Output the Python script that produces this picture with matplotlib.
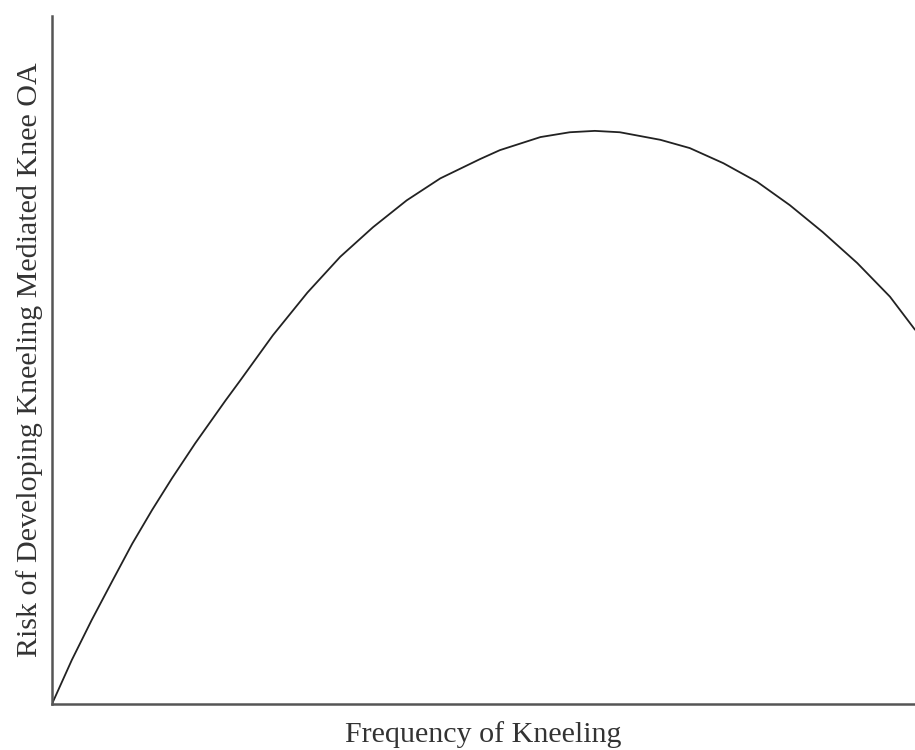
import matplotlib.pyplot as plt

# values (arbitrary 0-100 scale on both axes)
frequency = [0, 2.3, 4.6, 7.0, 9.3, 11.6, 13.9, 16.6, 20.1, 21.8, 25.6, 29.6,
             33.4, 37.2, 41.1, 45.0, 49.6, 51.9, 56.6, 60.0, 62.9, 65.8, 70.5,
             73.9, 77.8, 81.7, 85.5, 89.3, 93.3, 97.1, 100]
risk = [0, 6.4, 12.2, 17.9, 23.3, 28.2, 32.8, 37.9, 44.1, 47.0, 53.6, 59.8,
        65.0, 69.3, 73.2, 76.4, 79.2, 80.5, 82.4, 83.1, 83.3, 83.1, 82.0,
        80.8, 78.6, 75.9, 72.5, 68.6, 64.1, 59.2, 54.4]

x_label = "Frequency of Kneeling"
y_label = "Risk of Developing Kneeling Mediated Knee OA"

plt.rcParams['font.family'] = ['Liberation Serif', 'DejaVu Serif']

fig = plt.figure(figsize=(9.15, 7.5), dpi=100)
ax = fig.add_axes([0.0568, 0.0613, 0.9432, 0.9174])

ax.plot(frequency, risk, color='#222222', linewidth=1.3,
        solid_joinstyle='round', solid_capstyle='round')

ax.set_xlim(0, 100)
ax.set_ylim(0, 100)

# only left and bottom axis lines, no ticks
ax.spines['top'].set_visible(False)
ax.spines['right'].set_visible(False)
for side in ['left', 'bottom']:
    ax.spines[side].set_color('#555555')
    ax.spines[side].set_linewidth(1.8)
ax.set_xticks([])
ax.set_yticks([])

ax.set_xlabel(x_label, fontsize=21.6, color='#333333', labelpad=12)
ax.set_ylabel(y_label, fontsize=21.6, color='#333333', labelpad=6.5)

plt.savefig("out.png", dpi=100)
